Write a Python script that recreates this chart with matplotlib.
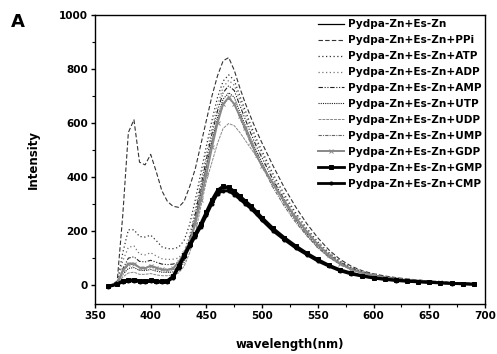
import matplotlib
matplotlib.use("Agg")
import matplotlib.pyplot as plt
from matplotlib.ticker import MultipleLocator

# ---------------------------------------------------------
# DATA
# ---------------------------------------------------------
wavelength = [362, 370, 375, 380, 385, 390, 395, 400, 405, 410, 415, 420, 425, 430,
              435, 440, 445, 450, 455, 460, 465, 470, 475, 480, 485, 490, 495, 500,
              510, 520, 530, 540, 550, 560, 570, 580, 590, 600, 610, 620, 630, 640,
              650, 660, 670, 680, 690]

es_zn = [-5, 4, 14, 17, 18, 15, 14, 16, 14, 12, 15, 30, 68, 108, 148, 185, 222, 265,
         310, 345, 358, 356, 342, 325, 308, 290, 268, 245, 205, 172, 142, 116, 92, 72,
         55, 43, 34, 27, 22, 18, 15, 13, 11, 9, 7, 5, 4]
ppi = [-5, 15, 260, 565, 612, 455, 445, 484, 420, 350, 310, 292, 288, 310, 365, 430,
       520, 610, 700, 775, 830, 842, 795, 730, 672, 620, 570, 525, 440, 360, 290, 228,
       175, 130, 95, 70, 53, 42, 34, 28, 23, 19, 16, 13, 10, 8, 6]
atp = [-3, 10, 120, 205, 205, 180, 178, 185, 165, 142, 135, 135, 140, 165, 225, 315,
       415, 515, 610, 695, 755, 778, 758, 700, 645, 590, 540, 495, 410, 335, 268, 210,
       160, 120, 88, 65, 50, 40, 32, 26, 22, 18, 15, 12, 10, 8, 6]
adp = [-3, 8, 90, 140, 145, 115, 112, 120, 108, 98, 95, 96, 100, 125, 185, 280, 385,
       485, 580, 665, 732, 758, 740, 685, 630, 578, 528, 485, 400, 325, 260, 205, 156,
       118, 87, 64, 49, 39, 31, 25, 21, 17, 14, 11, 9, 7, 5]
amp = [-3, 6, 60, 100, 105, 88, 86, 92, 85, 78, 76, 78, 84, 110, 170, 262, 365, 465,
       560, 645, 712, 738, 720, 665, 612, 560, 512, 470, 388, 315, 252, 198, 150, 113,
       84, 62, 48, 38, 30, 25, 20, 16, 13, 11, 9, 7, 5]
utp = [-3, 5, 40, 62, 65, 55, 54, 58, 52, 48, 47, 49, 55, 85, 145, 238, 340, 440, 535,
       620, 688, 712, 695, 640, 590, 540, 495, 452, 372, 302, 242, 190, 144, 108, 80,
       60, 46, 37, 29, 24, 19, 16, 13, 10, 8, 6, 5]
udp = [-3, 4, 30, 45, 48, 40, 40, 43, 38, 35, 35, 38, 45, 70, 120, 190, 290, 385, 455,
       525, 580, 598, 590, 565, 535, 505, 475, 445, 375, 305, 240, 185, 138, 102, 76,
       57, 44, 35, 28, 23, 19, 15, 12, 10, 8, 6, 5]
ump = [-3, 5, 50, 75, 78, 65, 64, 70, 62, 58, 56, 58, 65, 95, 155, 245, 345, 440, 530,
       608, 668, 690, 672, 620, 570, 522, 478, 438, 360, 292, 233, 183, 139, 104, 77,
       58, 45, 36, 28, 23, 19, 15, 12, 10, 8, 6, 5]
gdp = [-3, 6, 55, 80, 80, 65, 62, 72, 65, 58, 57, 62, 85, 120, 160, 225, 315, 410, 510,
       600, 670, 695, 670, 625, 580, 530, 480, 440, 375, 310, 250, 198, 150, 110, 80,
       58, 45, 36, 28, 23, 19, 15, 12, 10, 8, 6, 5]
gmp = [-4, 5, 16, 19, 20, 17, 16, 18, 16, 14, 17, 33, 72, 112, 152, 190, 228, 272,
       316, 352, 366, 362, 348, 330, 312, 294, 272, 250, 210, 176, 146, 119, 95, 74,
       57, 45, 35, 28, 23, 19, 16, 13, 11, 9, 7, 5, 4]
cmp_ = [-6, 3, 12, 15, 16, 13, 12, 14, 12, 10, 13, 27, 64, 104, 144, 180, 216, 258,
        302, 338, 350, 348, 335, 318, 300, 283, 262, 240, 200, 168, 138, 113, 89, 70,
        53, 41, 33, 26, 21, 17, 14, 12, 10, 8, 6, 5, 3]

labels = ["Pydpa-Zn+Es-Zn", "Pydpa-Zn+Es-Zn+PPi", "Pydpa-Zn+Es-Zn+ATP",
          "Pydpa-Zn+Es-Zn+ADP", "Pydpa-Zn+Es-Zn+AMP", "Pydpa-Zn+Es-Zn+UTP",
          "Pydpa-Zn+Es-Zn+UDP", "Pydpa-Zn+Es-Zn+UMP", "Pydpa-Zn+Es-Zn+GDP",
          "Pydpa-Zn+Es-Zn+GMP", "Pydpa-Zn+Es-Zn+CMP"]
series = [es_zn, ppi, atp, adp, amp, utp, udp, ump, gdp, gmp, cmp_]

# line styles: (color, dash pattern, linewidth, marker)
styles = [
    ("black", "-", 0.9, None),
    ("#333333", (0, (4, 2)), 0.8, None),
    ("#333333", (0, (1, 2)), 0.9, None),
    ("#777777", (0, (1, 2)), 0.9, None),
    ("#222222", (0, (4, 1.5, 1, 1.5, 1, 1.5)), 0.8, None),
    ("#222222", (0, (1, 1)), 0.8, None),
    ("#888888", (0, (3, 1)), 0.7, None),
    ("#666666", (0, (3, 1, 1, 1)), 0.8, None),
    ("#888888", "-", 1.4, "x"),
    ("black", "-", 2.0, "s"),
    ("black", "-", 2.0, "o"),
]

plt.rcParams["font.family"] = ["DejaVu Sans"]

fig = plt.figure(figsize=(4.97, 3.54), dpi=100)
ax = fig.add_axes([0.191, 0.141, 0.785, 0.817])

for vals, lab, (col, ls, lw, mk) in zip(series, labels, styles):
    ax.plot(wavelength, vals, color=col, linestyle=ls, linewidth=lw, marker=mk,
            markersize=2.2, markeredgewidth=0.7, label=lab)

ax.set_xlim(350, 700)
ax.set_ylim(-70, 1000)
ax.xaxis.set_major_locator(MultipleLocator(50))
ax.xaxis.set_minor_locator(MultipleLocator(25))
ax.yaxis.set_major_locator(MultipleLocator(200))
ax.yaxis.set_minor_locator(MultipleLocator(100))
ax.tick_params(which="major", length=3, width=1, labelsize=7.5, pad=2)
ax.tick_params(which="minor", length=2, width=0.8)
for lbl in ax.get_xticklabels() + ax.get_yticklabels():
    lbl.set_fontweight("bold")
for sp in ax.spines.values():
    sp.set_linewidth(1.0)

ax.set_xlabel("wavelength(nm)", fontsize=8.5, fontweight="bold", labelpad=12)
ax.set_ylabel("Intensity", fontsize=8.5, fontweight="bold", labelpad=14)

ax.legend(loc="upper right", bbox_to_anchor=(1.008, 1.006), frameon=False,
          prop={"size": 7.6, "weight": "bold"}, handlelength=2.4, handletextpad=0.4,
          labelspacing=0.56, borderaxespad=0.2)

fig.text(0.022, 0.925, "A", fontsize=13, fontweight="bold")

plt.savefig("out.png", dpi=100, facecolor="white")
plt.close()
